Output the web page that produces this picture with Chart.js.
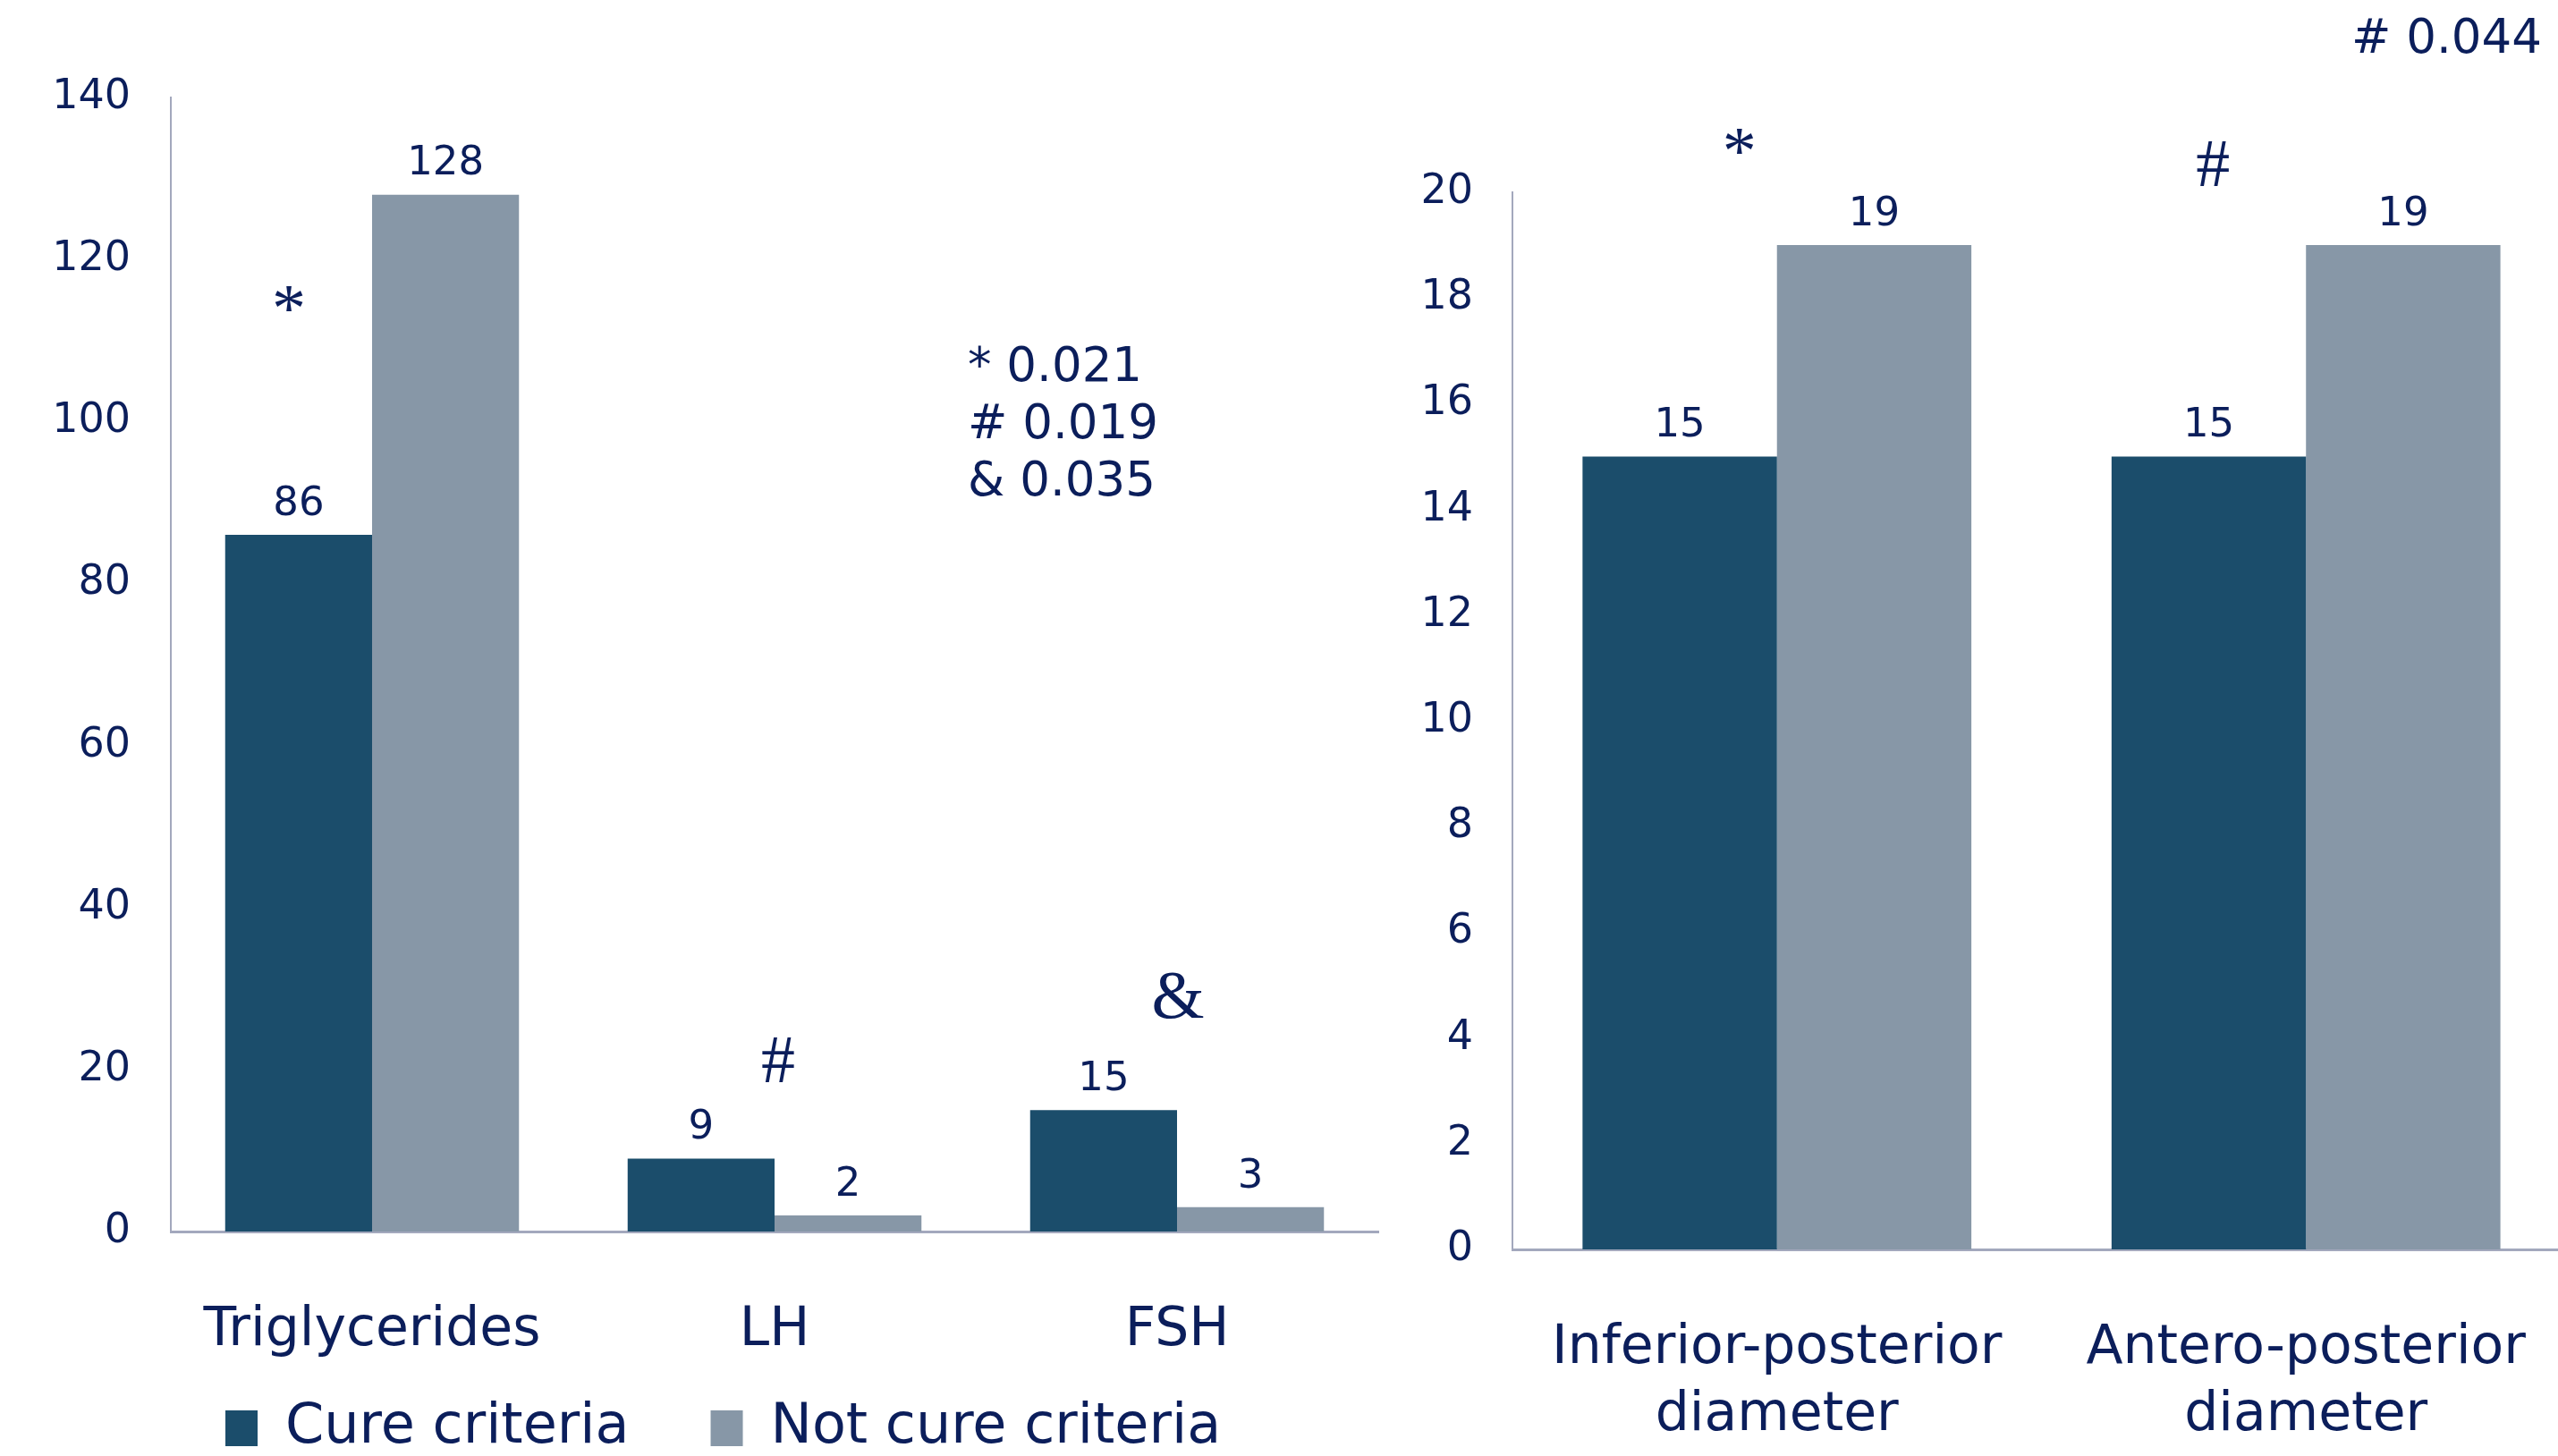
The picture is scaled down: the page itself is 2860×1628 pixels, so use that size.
<!DOCTYPE html>
<html>
<head>
<meta charset="utf-8">
<title>Cure criteria</title>
<script src="https://cdn.jsdelivr.net/npm/chart.js@4.4.0/dist/chart.umd.min.js"></script>
<style>
    html, body { margin: 0; padding: 0; background: #fff; overflow: hidden; }
    .page { position: relative; width: 2860px; height: 1628px; overflow: hidden; }
    /* left chart: hormones + triglycerides */
    #left-wrap { position: absolute; left: 0; top: 0; width: 1560px; height: 1690px; }
    /* right chart: diameters, axis runs a bit past the page edge */
    #right-wrap { position: absolute; left: 1560px; top: 0; width: 1338px; height: 1628px; }
</style>
</head>
<body>
<div class="page">
    <div id="left-wrap"><canvas id="left-chart"></canvas></div>
    <div id="right-wrap"><canvas id="right-chart"></canvas></div>
</div>
<script>
    var seriesNames = ['Cure criteria', 'Not cure criteria'];

    var leftLabels = ['Triglycerides', 'LH', 'FSH'];
    var leftCure = [86, 9, 15];
    var leftNotCure = [128, 2, 3];
    var leftMax = 140, leftStep = 20;

    var rightLabels = [['Inferior-posterior', 'diameter'], ['Antero-posterior', 'diameter']];
    var rightCure = [15, 15];
    var rightNotCure = [19, 19];
    var rightMax = 20, rightStep = 2;

    // significance marks over the groups, and where they sit on the value axis
    var leftMarks = ['*', '#', '&'];
    var leftMarkAt = [113.4, 20.6, 28.6];
    var rightMarks = ['*', '#'];
    var rightMarkAt = [20.7, 20.45];

    var leftPvals = ['* 0.021', '# 0.019', '& 0.035'];
    var rightPvals = ['# 0.044'];

    var TEXT = '#0b1e5b';
    var DARK = '#1b4d6b';
    var GREY = '#8797a7';
    var AXIS = '#a3a8bd';
    var SANS = '"DejaVu Sans", Verdana, sans-serif';

    // values above bars, marks, p-value notes
    var notes = {
        id: 'notes',
        afterLayout: function (chart, args, opts) {
            // pull the legend up under the category labels and a bit to the left
            var lg = chart.legend;
            if (lg && lg.options.display && opts.legendShift) {
                lg.top -= opts.legendShift[1];
                lg.bottom -= opts.legendShift[1];
                lg.left -= opts.legendShift[0];
                lg.right -= opts.legendShift[0];
            }
        },
        afterDatasetsDraw: function (chart, args, opts) {
            var ctx = chart.ctx;
            var xs = chart.scales.x, ys = chart.scales.y;
            ctx.save();
            ctx.fillStyle = TEXT;
            ctx.textAlign = 'center';
            ctx.textBaseline = 'middle';
            ctx.font = '45px ' + SANS;
            chart.data.datasets.forEach(function (ds, i) {
                chart.getDatasetMeta(i).data.forEach(function (bar, j) {
                    ctx.fillText(String(ds.data[j]), bar.x, bar.y - 34);
                });
            });

            ctx.font = '76px "Liberation Serif", "Times New Roman", serif';
            opts.marks.forEach(function (m, k) {
                ctx.fillText(m, xs.getPixelForValue(k) + opts.markDx[k], ys.getPixelForValue(opts.markAt[k]));
            });

            ctx.font = '53px ' + SANS;
            ctx.textAlign = opts.pAlign;
            opts.pvals.forEach(function (t, k) {
                ctx.fillText(t, opts.pX(chart), opts.pY + k * 64);
            });
            ctx.restore();
        }
    };

    function yAxis(max, step, width, pad) {
        return {
            min: 0, max: max,
            grid: { display: false, drawTicks: false },
            border: { display: true, color: AXIS, width: 2 },
            ticks: { stepSize: step, padding: pad, color: TEXT, font: { family: SANS, size: 46 } },
            afterFit: function (s) { s.width = width; }
        };
    }

    function xAxis(height) {
        return {
            grid: { display: false, drawTicks: false },
            border: { display: true, color: AXIS, width: 3 },
            ticks: {
                padding: 74, color: TEXT, autoSkip: false, maxRotation: 0,
                font: { family: SANS, size: 60, lineHeight: 1.25 }
            },
            afterFit: function (s) { s.height = height; }
        };
    }

    function datasets(cure, notCure, catPct) {
        return [
            { label: seriesNames[0], data: cure, backgroundColor: DARK, borderWidth: 0, categoryPercentage: catPct, barPercentage: 1 },
            { label: seriesNames[1], data: notCure, backgroundColor: GREY, borderWidth: 0, categoryPercentage: catPct, barPercentage: 1 }
        ];
    }

    new Chart(document.getElementById('left-chart'), {
        type: 'bar',
        data: { labels: leftLabels, datasets: datasets(leftCure, leftNotCure, 0.73) },
        options: {
            responsive: true, maintainAspectRatio: false, animation: false, devicePixelRatio: 1,
            layout: { padding: { top: 109, right: 19, left: 0, bottom: 0 } },
            scales: { x: xAxis(150), y: yAxis(leftMax, leftStep, 191, 45) },
            plugins: {
                tooltip: { enabled: false },
                legend: {
                    position: 'bottom', align: 'start', fullSize: false,
                    labels: {
                        boxWidth: 36, boxHeight: 40, padding: 91, color: TEXT,
                        font: { family: SANS, size: 62 }
                    }
                },
                notes: {
                    marks: leftMarks, markAt: leftMarkAt, markDx: [-93, 4, 1],
                    pvals: leftPvals, pAlign: 'left', pY: 412, legendShift: [30, 52],
                    pX: function (c) { return c.scales.x.getPixelForValue(1.48); }
                }
            }
        },
        plugins: [notes]
    });

    new Chart(document.getElementById('right-chart'), {
        type: 'bar',
        data: { labels: rightLabels, datasets: datasets(rightCure, rightNotCure, 0.735) },
        options: {
            responsive: true, maintainAspectRatio: false, animation: false, devicePixelRatio: 1,
            layout: { padding: { top: 215, right: 0, left: 0, bottom: 0 } },
            scales: { x: xAxis(231), y: yAxis(rightMax, rightStep, 131, 44) },
            plugins: {
                tooltip: { enabled: false },
                legend: { display: false },
                notes: {
                    marks: rightMarks, markAt: rightMarkAt, markDx: [-42, -104],
                    pvals: rightPvals, pAlign: 'right', pY: 45,
                    pX: function (c) { return 2842 - 1560; }
                }
            }
        },
        plugins: [notes]
    });
</script>
</body>
</html>
